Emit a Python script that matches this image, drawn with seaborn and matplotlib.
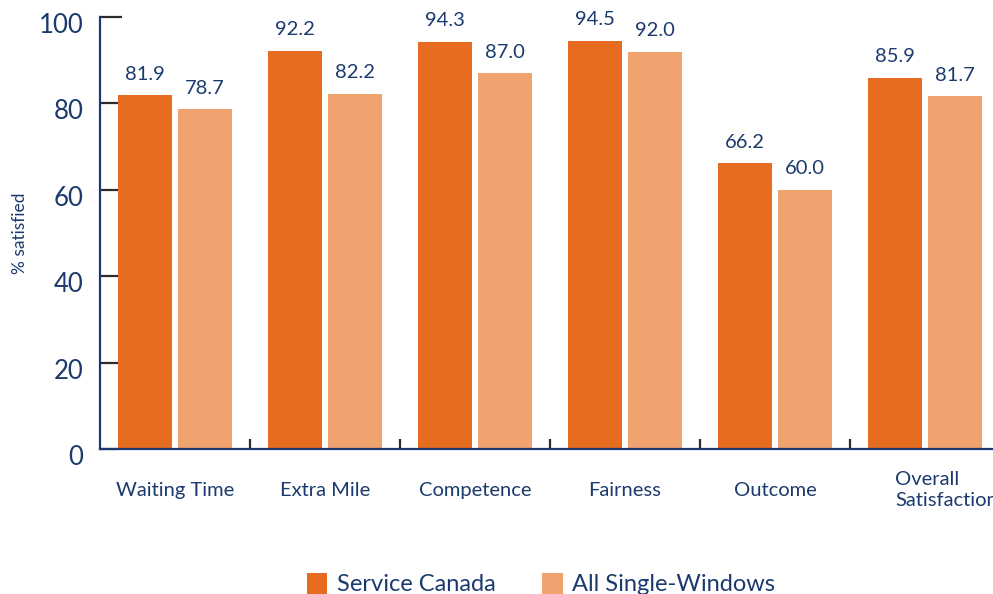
import matplotlib
matplotlib.use("Agg")
import matplotlib.pyplot as plt
import matplotlib.transforms as mtransforms
from matplotlib.patches import Patch
import pandas as pd
import seaborn as sns

# Survey results: share of clients satisfied, by service dimension
categories = ["Waiting Time", "Extra Mile", "Competence", "Fairness",
              "Outcome", "Overall\nSatisfaction"]
service_canada = [81.9, 92.2, 94.3, 94.5, 66.2, 85.9]
all_single_windows = [78.7, 82.2, 87.0, 92.0, 60.0, 81.7]
series_names = ["Service Canada", "All Single-Windows"]
y_ticks = [0, 20, 40, 60, 80, 100]

NAVY = "#1b3a6e"
DARK_ORANGE = "#e66c20"
LIGHT_ORANGE = "#f0a36e"
TICK_DARK = "#2b2b2b"

df = pd.DataFrame({
    "category": categories * 2,
    "series": [series_names[0]] * len(categories) + [series_names[1]] * len(categories),
    "value": service_canada + all_single_windows,
})

sns.set_theme(style="white")
plt.rcParams["font.family"] = ["Lato", "DejaVu Sans"]

fig = plt.figure(figsize=(9.93, 5.94), dpi=100)
# axes run slightly past the right edge of the canvas
ax = fig.add_axes([100 / 993, 145 / 594, 900 / 993, 432 / 594])

palette = {series_names[0]: DARK_ORANGE, series_names[1]: LIGHT_ORANGE}
sns.barplot(data=df, x="category", y="value", hue="series",
            hue_order=series_names, order=categories, palette=palette,
            width=0.8, gap=0.1, saturation=1, legend=False, ax=ax,
            linewidth=0)

ax.set_xlim(-0.5, len(categories) - 0.5)
ax.set_ylim(0, 100)

# value labels above bars
for container in ax.containers:
    ax.bar_label(container, fmt="%.1f", padding=9, color=NAVY, fontsize=14.5)

# spines
for side in ["top", "right"]:
    ax.spines[side].set_visible(False)
ax.spines["left"].set_color(NAVY)
ax.spines["left"].set_linewidth(1.6)
ax.spines["bottom"].set_color(NAVY)
ax.spines["bottom"].set_linewidth(1.6)

# y axis
ax.set_yticks(y_ticks)
ax.set_yticklabels([str(t) for t in y_ticks])
ax.tick_params(axis="y", direction="in", length=13, width=1.6,
               color=TICK_DARK, labelsize=18.5, labelcolor=NAVY, pad=12, left=True)
ax.yaxis.get_major_ticks()[-1].tick1line.set_color(NAVY)
ax.yaxis.get_major_ticks()[-1].tick1line.set_markersize(16)
shift = mtransforms.ScaledTranslation(0, -0.06, fig.dpi_scale_trans)
for lbl in ax.get_yticklabels():
    lbl.set_transform(lbl.get_transform() + shift)
ax.set_ylabel("% satisfied", color=NAVY, fontsize=12.5)
ax.yaxis.set_label_coords(-72 / 900, 0.5)

# x axis: category names as text, separators as inward minor ticks
ax.set_xticks(range(len(categories)))
ax.set_xticklabels([])
ax.tick_params(axis="x", which="major", length=0)
ax.set_xticks([i + 0.5 for i in range(len(categories) - 1)], minor=True)
ax.tick_params(axis="x", which="minor", direction="in", length=7, width=1.6,
               color=TICK_DARK, bottom=True)
ax.set_xlabel("")

for i, name in enumerate(categories):
    if "\n" in name:
        ax.text(i - 0.2, -9.5, name, ha="left", va="center", color=NAVY,
                fontsize=14.5, linespacing=1.3, transform=ax.transData,
                clip_on=False)
    else:
        ax.text(i, -9.5, name, ha="center", va="center", color=NAVY,
                fontsize=14.5, transform=ax.transData, clip_on=False)

handles = [Patch(facecolor=palette[n], edgecolor="none", label=n) for n in series_names]
fig.legend(handles=handles, loc="center", bbox_to_anchor=(541 / 993, 1 - 584 / 594),
           ncol=2, frameon=False, fontsize=17, labelcolor=NAVY,
           handlelength=0.85, handleheight=1.0, handletextpad=0.4,
           columnspacing=2.0, borderaxespad=0, borderpad=0)

fig.savefig("out.png", dpi=100)
